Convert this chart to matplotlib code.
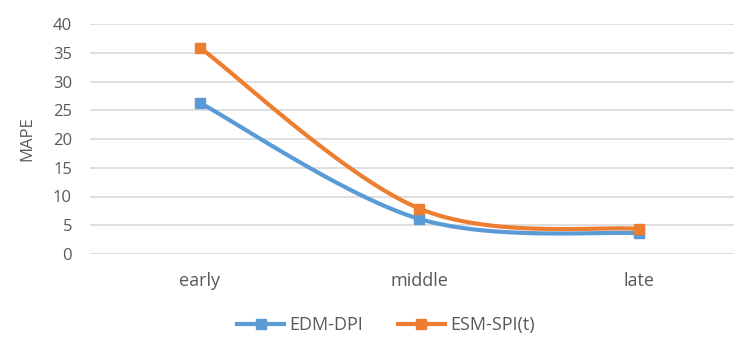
import numpy as np
import matplotlib
matplotlib.use("Agg")
import matplotlib.pyplot as plt
from matplotlib.lines import Line2D

categories = ["early", "middle", "late"]
edm_dpi = [26.3, 6.1, 3.6]
esm_spi = [35.9, 7.9, 4.35]
series_names = ["EDM-DPI", "ESM-SPI(t)"]
y_ticks = [0, 5, 10, 15, 20, 25, 30, 35, 40]

BLUE = "#5B9BD5"
ORANGE = "#ED7D31"
TXT = "#595959"

plt.rcParams['font.family'] = ['Open Sans', 'DejaVu Sans']


def smooth(xs, ys, n=60):
    # Excel-like smoothed line: Catmull-Rom Bezier segments
    xs = np.asarray(xs, float)
    ys = np.asarray(ys, float)
    pts = np.column_stack([xs, ys])
    out = []
    m = len(pts)
    for i in range(m - 1):
        p0 = pts[i - 1] if i > 0 else pts[i]
        p1 = pts[i]
        p2 = pts[i + 1]
        p3 = pts[i + 2] if i + 2 < m else pts[i + 1]
        c1 = p1 + (p2 - p0) / 6.0
        c2 = p2 - (p3 - p1) / 6.0
        t = np.linspace(0, 1, n)[:, None]
        seg = ((1 - t) ** 3) * p1 + 3 * ((1 - t) ** 2) * t * c1 + 3 * (1 - t) * t ** 2 * c2 + t ** 3 * p2
        out.append(seg if i == 0 else seg[1:])
    arr = np.vstack(out)
    return arr[:, 0], arr[:, 1]


fig = plt.figure(figsize=(7.34, 3.4), dpi=100)
ax = fig.add_axes([90 / 734, 1 - 254 / 340, 1 - 90 / 734, 230 / 340])

x = np.arange(len(categories))
for vals, col in [(edm_dpi, BLUE), (esm_spi, ORANGE)]:
    sx, sy = smooth(x, vals)
    ax.plot(sx, sy, color=col, lw=3, solid_capstyle='round', zorder=3)
    ax.plot(x, vals, ls='none', marker='s', ms=7.5, color=col, zorder=4)

ax.set_xlim(-0.5, (734 - 200) / 219.5)
ax.set_ylim(0, 40)
ax.set_yticks(y_ticks)
ax.set_xticks(x)
ax.set_xticklabels(categories)
ax.yaxis.grid(True, color="#D9D9D9", lw=1.2)
ax.set_axisbelow(True)
for s in ax.spines.values():
    s.set_visible(False)
ax.tick_params(axis='both', length=0, colors=TXT)
ax.tick_params(axis='y', pad=13, labelsize=12)
ax.tick_params(axis='x', pad=13, labelsize=13)
ax.set_ylabel("MAPE", fontsize=12, color=TXT)
ax.yaxis.set_label_coords(-(90 - 35) / 644, 0.5)

handles = [Line2D([], [], color=BLUE, lw=3, marker='s', ms=7.5),
           Line2D([], [], color=ORANGE, lw=3, marker='s', ms=7.5)]
fig.legend(handles, series_names, loc='center', bbox_to_anchor=(386 / 734, 1 - 325 / 340),
           ncol=2, frameon=False, fontsize=13, labelcolor=TXT, handlelength=2.6,
           columnspacing=1.9, handletextpad=0.3)

fig.savefig("out.png", dpi=100)
